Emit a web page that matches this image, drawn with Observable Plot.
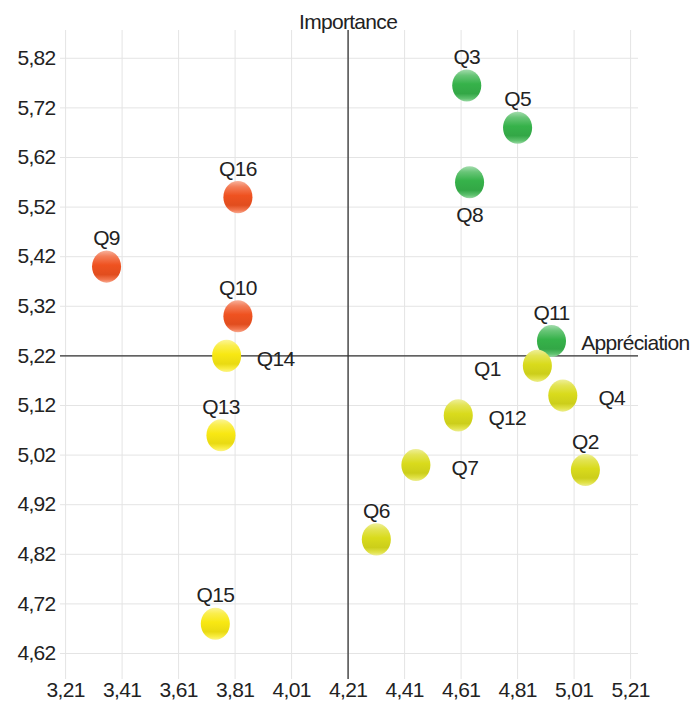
<!DOCTYPE html>
<html>
<head>
<meta charset="utf-8">
<script src="https://cdn.jsdelivr.net/npm/d3@7"></script>
<script src="https://cdn.jsdelivr.net/npm/@observablehq/plot@0.6"></script>
<style>
  html, body { margin: 0; padding: 0; background: #ffffff; }
  #chart { width: 691px; height: 703px; overflow: hidden; }
</style>
</head>
<body>
<div id="chart"></div>
<script>
// ---- data ----
const questions    = ["Q1","Q2","Q3","Q4","Q5","Q6","Q7","Q8","Q9","Q10","Q11","Q12","Q13","Q14","Q15","Q16"];
const appreciation = [4.88, 5.05, 4.63, 4.97, 4.81, 4.31, 4.45, 4.64, 3.355, 3.82, 4.93, 4.60, 3.76, 3.78, 3.74, 3.82];
const importance   = [5.20, 4.99, 5.765, 5.14, 5.68, 4.85, 5.00, 5.57, 5.40, 5.30, 5.25, 5.10, 5.06, 5.22, 4.68, 5.54];
const groups       = ["lime","lime","green","lime","green","lime","lime","green","red","red","green","lime","yellow","yellow","yellow","red"];
const xTicks = [3.21, 3.41, 3.61, 3.81, 4.01, 4.21, 4.41, 4.61, 4.81, 5.01, 5.21];
const yTicks = [4.62, 4.72, 4.82, 4.92, 5.02, 5.12, 5.22, 5.32, 5.42, 5.52, 5.62, 5.72, 5.82];
const crossX = 4.21;   // Appréciation reference
const crossY = 5.22;   // Importance reference
const axisTitles = {x: "Appréciation", y: "Importance"};

// label placement groups
const labelRight = ["Q4","Q7","Q12","Q14"];
const labelLeft  = ["Q1"];
const labelBelow = ["Q8"];

const baseColors = {green: "#36b24a", red: "#ef5220", lime: "#d9db1c", yellow: "#f8e813"};

const data = questions.map((q, i) => ({q, x: appreciation[i], y: importance[i], g: groups[i]}));
const fmt = d => d.toFixed(2).replace(".", ",");
const FONT = "'Liberation Sans', Arial, sans-serif";

// slightly tall ellipse symbol (glossy ball)
const ball = {
  draw(ctx, size) {
    const r = Math.sqrt(size / Math.PI), a = r * 0.95, b = r * 1.05, k = 0.5523;
    ctx.moveTo(a, 0);
    ctx.bezierCurveTo(a, k * b, k * a, b, 0, b);
    ctx.bezierCurveTo(-k * a, b, -a, k * b, -a, 0);
    ctx.bezierCurveTo(-a, -k * b, -k * a, -b, 0, -b);
    ctx.bezierCurveTo(k * a, -b, a, -k * b, a, 0);
    ctx.closePath();
  }
};

const placement = q => labelRight.includes(q) ? "right" : labelLeft.includes(q) ? "left" : labelBelow.includes(q) ? "below" : "above";
const labelMark = (pos, opts) => Plot.text(data.filter(d => placement(d.q) === pos), {x: "x", y: "y", text: "q", fontSize: 21, fill: "#222", ...opts});

const chart = Plot.plot({
  width: 691,
  height: 703,
  marginLeft: 60,
  marginRight: 53,
  marginTop: 30,
  marginBottom: 24,
  style: {fontFamily: FONT, fontSize: "21px", color: "#222", background: "#ffffff", overflow: "visible", letterSpacing: "-0.7px"},
  x: {domain: [3.192, 5.238], label: null},
  y: {domain: [4.5676, 5.876], label: null},
  marks: [
    Plot.gridX(xTicks, {stroke: "#e4e4e4", strokeOpacity: 1}),
    Plot.gridY(yTicks, {stroke: "#e4e4e4", strokeOpacity: 1}),
    Plot.axisX(xTicks, {tickFormat: fmt, tickSize: 0, tickPadding: 3, label: null, fill: "#222"}),
    Plot.axisY(yTicks, {tickFormat: fmt, tickSize: 0, tickPadding: 5, label: null, fill: "#222"}),
    Plot.ruleX([crossX], {stroke: "#333", strokeWidth: 1.3}),
    Plot.ruleY([crossY], {stroke: "#333", strokeWidth: 1.3}),
    Plot.text([axisTitles.y], {x: () => crossX, frameAnchor: "top", dy: -16, fontSize: 21, fill: "#222"}),
    Plot.text([axisTitles.x], {y: () => crossY, frameAnchor: "right", textAnchor: "end", dx: 51, dy: -13, fontSize: 21, fill: "#222"}),
    ...Object.keys(baseColors).map(g =>
      Plot.dot(data.filter(d => d.g === g), {x: "x", y: "y", r: 15.3, symbol: ball, fill: `url(#ball-${g})`, stroke: "none"})
    ),
    labelMark("above", {dy: -28}),
    labelMark("below", {dy: 33}),
    labelMark("right", {dx: 49, dy: 3}),
    labelMark("left",  {dx: -50, dy: 3})
  ]
});

// glossy ball gradients
const svg = d3.select(chart);
const defs = svg.insert("defs", ":first-child");
for (const [g, c] of Object.entries(baseColors)) {
  const lg = defs.append("linearGradient").attr("id", `ball-${g}`).attr("x1", 0).attr("y1", 0).attr("x2", 0).attr("y2", 1);
  const mix = t => d3.interpolateRgb(c, "#ffffff")(t);
  const dark = d3.interpolateRgb(c, "#000000")(0.06);
  [[0, mix(0.55)], [0.18, mix(0.25)], [0.45, c], [0.75, dark], [0.9, mix(0.2)], [1, mix(0.5)]]
    .forEach(([o, col]) => lg.append("stop").attr("offset", o).attr("stop-color", col));
}

document.getElementById("chart").append(chart);
</script>
</body>
</html>
